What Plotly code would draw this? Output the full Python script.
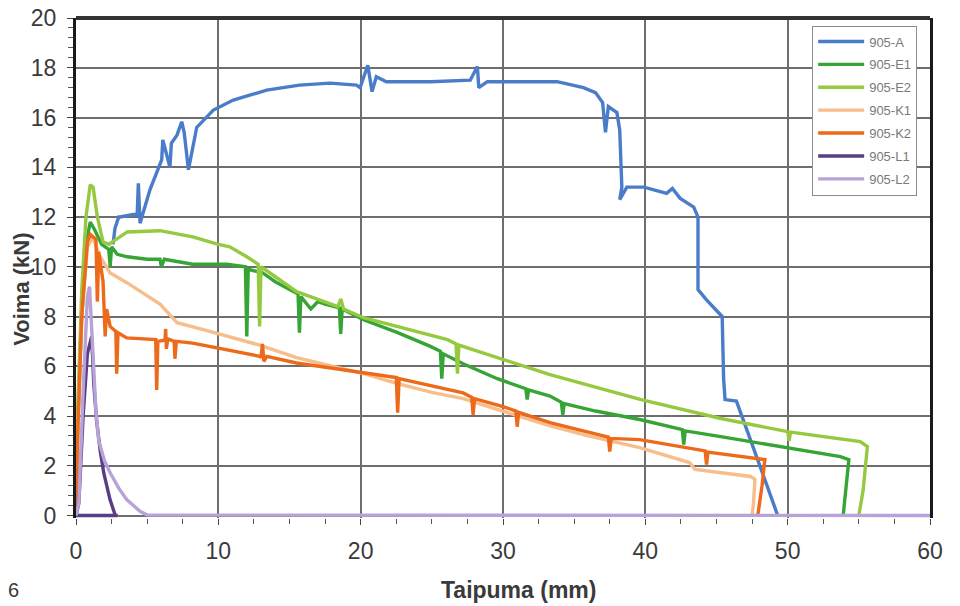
import plotly.graph_objects as go

# ---------------- data ----------------
series_names = ["905-A", "905-E1", "905-E2", "905-K1", "905-K2", "905-L1", "905-L2"]

A_x = [2.6, 2.74, 3.0, 3.09, 4.03, 4.3, 4.38, 4.5, 5.2, 6.02, 6.1, 6.3, 6.6, 6.7, 7.1, 7.43, 7.6, 7.9, 8.48, 9.65,
       11.05, 13.4, 15.7, 17.85, 19.7, 19.96, 20.5, 20.8, 21.1, 21.8, 24.9, 27.7, 28.2, 28.3, 28.9, 33.8, 35.65,
       36.5, 37.0, 37.2, 37.4, 38.0, 38.2, 38.35, 38.2, 38.7, 39.9, 41.5, 41.9, 42.45, 43.4, 43.7, 43.7, 44.3,
       45.4, 45.5, 45.6, 46.4, 47.2, 48.3, 49.3]
A_y = [10.9, 11.55, 12.0, 12.0, 12.1, 12.1, 13.35, 11.75, 13.1, 14.3, 15.1, 14.6, 14.0, 14.96, 15.3, 15.83, 15.4,
       13.9, 15.6, 16.3, 16.7, 17.1, 17.3, 17.38, 17.3, 17.2, 18.1, 17.04, 17.64, 17.44, 17.44, 17.5, 18.05, 17.2,
       17.44, 17.44, 17.2, 17.0, 16.6, 15.4, 16.44, 16.2, 15.5, 13.2, 12.7, 13.2, 13.2, 12.95, 13.15, 12.75, 12.4,
       12.0, 9.08, 8.67, 8.0, 5.5, 4.66, 4.6, 3.3, 1.6, 0.0]

E1_x = [0, 0.15, 0.4, 0.8, 1.0, 1.3, 1.8, 2.3, 2.4, 2.5, 2.9, 3.6, 5.0, 5.9, 6.0, 6.2, 8.2, 10.6, 11.9, 12.0,
        12.1, 13.1, 14.0, 15.6, 15.7, 15.8, 16.5, 17.0, 17.5, 18.5, 18.6, 18.7, 20.2, 22.6, 24.9, 25.6, 25.7,
        25.8, 27.2, 29.6, 31.6, 31.7, 31.8, 33.3, 34.1, 34.2, 34.3, 36.5, 39.6, 42.6, 42.7, 42.8, 45.3, 50.0,
        53.7, 54.3, 54.1, 53.9]
E1_y = [0, 4, 8, 11.2, 11.8, 11.5, 10.9, 10.7, 10.0, 10.8, 10.5, 10.4, 10.3, 10.3, 10.0, 10.3, 10.1, 10.1, 10.0,
        7.2, 9.9, 9.76, 9.4, 8.9, 7.35, 8.8, 8.3, 8.6, 8.5, 8.35, 7.3, 8.3, 7.87, 7.35, 6.8, 6.6, 5.5, 6.5, 6.1,
        5.5, 5.1, 4.66, 5.05, 4.8, 4.55, 4.05, 4.5, 4.2, 3.86, 3.45, 2.85, 3.4, 3.17, 2.73, 2.37, 2.25, 1.0, 0.0]

E2_x = [0, 0.1, 0.4, 0.7, 1.0, 1.2, 1.5, 1.9, 2.3, 3.6, 5.9, 8.2, 10.0, 10.8, 12.0, 12.8, 12.9, 13.0, 15.5, 18.4,
        18.6, 18.8, 20.2, 22.6, 26.1, 26.7, 26.8, 26.9, 29.6, 31.2, 33.3, 39.7, 45.3, 50.0, 50.1, 50.2, 55.1,
        55.6, 55.3, 55.0]
E2_y = [0, 4, 9, 12, 13.3, 13.2, 12.0, 11.0, 10.9, 11.4, 11.45, 11.2, 10.9, 10.8, 10.4, 10.1, 7.6, 10.0, 9.0,
        8.4, 8.7, 8.3, 7.95, 7.6, 7.07, 6.9, 5.7, 6.85, 6.35, 6.06, 5.66, 4.66, 3.9, 3.37, 3.0, 3.35, 2.97, 2.77,
        1.0, 0.0]

K1_x = [0, 0.1, 0.4, 0.8, 1.2, 1.6, 2.4, 3.6, 5.9, 7.1, 9.4, 12.9, 15.5, 20.2, 22.6, 25.0, 27.2, 30.0, 33.3,
        36.0, 38.2, 39.6, 43.1, 43.5, 47.4, 47.7, 47.6, 47.5]
K1_y = [0, 3, 8, 10.8, 11.2, 10.5, 9.75, 9.35, 8.5, 7.75, 7.4, 6.85, 6.35, 5.7, 5.3, 4.95, 4.7, 4.2, 3.6, 3.2,
        2.9, 2.73, 2.13, 1.85, 1.57, 1.45, 0.5, 0.0]

K2_x = [0, 0.1, 0.4, 0.8, 1.0, 1.4, 1.5, 1.6, 1.9, 2.05, 2.15, 2.4, 2.8, 2.86, 2.95, 3.56, 5.6, 5.67, 5.75, 6.25,
        6.3, 6.35, 6.45, 6.9, 6.95, 7.05, 8.2, 10.6, 12.9, 13.0, 13.1, 13.2, 13.4, 15.5, 20.2, 22.5, 22.6, 22.7,
        27.2, 27.8, 27.9, 28.0, 30.0, 30.9, 31.0, 31.1, 33.3, 37.4, 37.5, 37.6, 39.6, 44.2, 44.3, 44.4, 48.4,
        48.2, 47.9]
K2_y = [0, 3, 8, 11.0, 11.3, 11.1, 8.6, 10.6, 9.4, 7.2, 8.3, 7.6, 7.4, 5.7, 7.35, 7.14, 7.07, 5.05, 7.0, 7.05,
        7.5, 6.7, 7.1, 7.0, 6.3, 7.0, 6.93, 6.66, 6.4, 6.35, 6.9, 6.2, 6.4, 6.13, 5.73, 5.55, 4.13, 5.5, 4.93,
        4.75, 4.05, 4.7, 4.38, 4.2, 3.57, 4.15, 3.73, 3.15, 2.57, 3.1, 3.05, 2.6, 2.05, 2.55, 2.25, 1.2, 0.0]

L1_x = [0, 0.2, 0.5, 0.8, 1.1, 1.25, 1.45, 1.7, 1.95, 2.39, 2.74, 2.9, 0]
L1_y = [0, 0.5, 4.0, 6.5, 7.2, 5.3, 3.8, 2.6, 1.71, 0.64, 0.04, 0.0, 0.0]

L2_x = [0, 0.2, 0.5, 0.8, 0.95, 1.2, 1.4, 1.6, 2.0, 2.4, 3.0, 3.56, 4.0, 4.5, 5.0, 60]
L2_y = [0, 0.5, 5.0, 8.8, 9.2, 6.0, 4.2, 3.0, 2.2, 1.72, 1.1, 0.64, 0.4, 0.17, 0.02, 0]

x_ticks = [0, 10, 20, 30, 40, 50, 60]
y_ticks = [0, 2, 4, 6, 8, 10, 12, 14, 16, 18, 20]

# ---------------- styling ----------------
colors = ["#4a7cc9", "#36a536", "#95c940", "#f7bd8a", "#ec6a1a", "#5a3d85", "#b8a3d8"]
xs = [A_x, E1_x, E2_x, K1_x, K2_x, L1_x, L2_x]
ys = [A_y, E1_y, E2_y, K1_y, K2_y, L1_y, L2_y]

FONT = "Liberation Sans, Arial, sans-serif"

fig = go.Figure()
for name, x, y, c in zip(series_names, xs, ys, colors):
    fig.add_trace(go.Scatter(x=x, y=y, mode="lines", name=name, legendgroup=name,
                             line=dict(color=c, width=3.4)))

fig.update_layout(
    width=960, height=606,
    margin=dict(l=76, r=30, t=18, b=87.5),
    paper_bgcolor="white", plot_bgcolor="white",
    showlegend=True,
    legend=dict(x=0.862, y=0.985, xanchor="left", yanchor="top",
                bgcolor="white", bordercolor="#8c8c8c", borderwidth=1,
                font=dict(family=FONT, size=13, color="#7a7a7a"),
                itemwidth=46, tracegroupgap=3, traceorder="grouped"),
    xaxis=dict(range=[0, 60], tickvals=x_ticks, showgrid=True, gridcolor="#6e6e6e", gridwidth=1.5,
               zeroline=False, showline=False, ticks="outside", ticklen=6, tickcolor="#444",
               ticklabelstandoff=6, automargin=False, ticklabeloverflow="allow",
               tickfont=dict(family=FONT, size=23, color="#3a3a3a"),
               minor=dict(dtick=2.5, ticks="outside", ticklen=5, tickcolor="#555", showgrid=False),
               layer="below traces"),
    yaxis=dict(range=[-0.1, 20], tickvals=y_ticks, showgrid=True, gridcolor="#6e6e6e", gridwidth=1.5,
               zeroline=False, showline=True, linecolor="#1a1a1a", linewidth=3, mirror=True,
               ticks="outside", ticklen=6, tickcolor="#444", ticklabelstandoff=6, automargin=False,
               ticklabeloverflow="allow",
               tickfont=dict(family=FONT, size=23, color="#3a3a3a"),
               minor=dict(tick0=0, dtick=0.4, ticks="outside", ticklen=5, tickcolor="#555", showgrid=False),
               layer="below traces"),
    shapes=[dict(type="line", xref="paper", yref="paper", x0=0, x1=1, y0=1, y1=1,
                 line=dict(color="#333333", width=4))],
    annotations=[
        dict(text="<b>Voima (kN)</b>", xref="paper", yref="paper", x=-0.0632, y=0.4565,
             textangle=-90, showarrow=False, xanchor="center", yanchor="middle",
             font=dict(family=FONT, size=22, color="#3a3a3a")),
        dict(text="<b>Taipuma (mm)</b>", xref="paper", yref="paper", x=0.5176, y=-0.143,
             showarrow=False, xanchor="center", yanchor="middle",
             font=dict(family=FONT, size=23, color="#3a3a3a")),
        dict(text="6", xref="paper", yref="paper", x=-0.0726, y=-0.143,
             showarrow=False, xanchor="center", yanchor="middle",
             font=dict(family=FONT, size=20, color="#3a3a3a")),
    ],
)

# remove the default 8px page margin so the 960x606 figure fills the window exactly
fig.write_html("out.html", config={"displayModeBar": False},
               post_script="document.body.style.margin='0';")
